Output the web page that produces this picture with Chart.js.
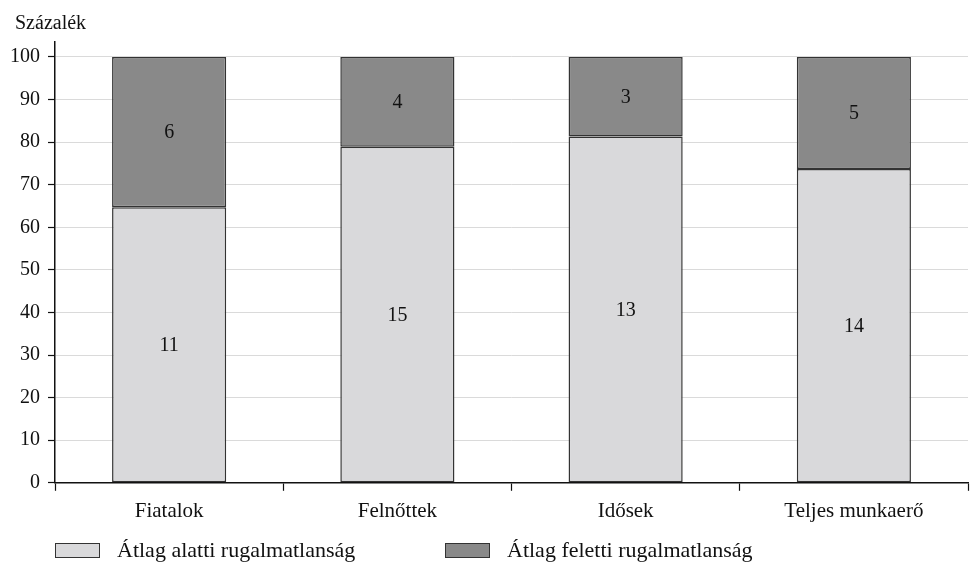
<!DOCTYPE html>
<html lang="hu">
<head>
<meta charset="utf-8">
<script src="https://cdn.jsdelivr.net/npm/chart.js@4/dist/chart.umd.min.js"></script>
<style>
    html, body { margin: 0; padding: 0; background: #fff; }
    #wrap { position: relative; width: 970px; height: 562px; }
    #ytitle {
        position: absolute; left: 15px; top: 10px; line-height: 24px;
        font-family: "Liberation Serif", serif; font-size: 20px; color: #111;
    }
    #legend {
        position: absolute; left: 0; top: 538px; width: 970px; height: 24px;
        font-family: "Liberation Serif", serif; font-size: 22px; color: #111;
    }
    .item { position: absolute; top: 0; height: 24px; line-height: 24px; white-space: nowrap; }
    .box { position: absolute; top: 5px; width: 45px; height: 15px; border: 1px solid #333; box-sizing: border-box; }
    .item span.txt { position: absolute; left: 62px; top: 0; }
</style>
</head>
<body>
<div id="wrap">
    <canvas id="chart" width="970" height="562"></canvas>
    <div id="ytitle">Százalék</div>
    <div id="legend"></div>
</div>
<script>
// ----------------------------------------------------------------------
// Adatok (leolvasva az ábráról)
// ----------------------------------------------------------------------
const categories = ['Fiatalok', 'Felnőttek', 'Idősek', 'Teljes munkaerő'];
const seriesNames = ['Átlag alatti rugalmatlanság', 'Átlag feletti rugalmatlanság'];

// oszlopmagasságok, százalék
const belowPct = [64.7, 78.9, 81.3, 73.7];
const abovePct = [35.3, 21.1, 18.7, 26.3];

// a szegmensekbe írt számok
const belowCount = [11, 15, 13, 14];
const aboveCount = [6, 4, 3, 5];

const yTicks = [0, 10, 20, 30, 40, 50, 60, 70, 80, 90, 100];

const FONT = '"Liberation Serif", serif';

// ----------------------------------------------------------------------
// Számok a szegmensek közepére
// ----------------------------------------------------------------------
const segmentLabels = {
    id: 'segmentLabels',
    afterDatasetsDraw(chart) {
        const ctx = chart.ctx;
        ctx.save();
        ctx.font = '20px ' + FONT;
        ctx.fillStyle = '#111';
        ctx.textAlign = 'center';
        ctx.textBaseline = 'middle';
        chart.data.datasets.forEach((ds, i) => {
            const meta = chart.getDatasetMeta(i);
            meta.data.forEach((bar, j) => {
                const p = bar.getProps(['x', 'y', 'base'], true);
                ctx.fillText(String(ds.counts[j]), p.x, (p.y + p.base) / 2 + 1);
            });
        });
        ctx.restore();
    }
};

const chart = new Chart(document.getElementById('chart'), {
    type: 'bar',
    data: {
        labels: categories,
        datasets: [{
            label: seriesNames[0],
            data: belowPct,
            counts: belowCount,
            backgroundColor: '#d9d9db',
            borderColor: '#333333',
            borderWidth: 1.5,
            borderSkipped: false
        }, {
            label: seriesNames[1],
            data: abovePct,
            counts: aboveCount,
            backgroundColor: '#898989',
            borderColor: '#333333',
            borderWidth: 1.5,
            borderSkipped: false
        }]
    },
    options: {
        responsive: false,
        animation: false,
        devicePixelRatio: 1,
        layout: { padding: { left: 5, right: 2, top: 42, bottom: 30 } },
        datasets: { bar: { barPercentage: 0.5, categoryPercentage: 1 } },
        plugins: {
            legend: { display: false },
            tooltip: { enabled: false },
            title: { display: false }
        },
        scales: {
            x: {
                stacked: true,
                grid: {
                    display: true,
                    drawOnChartArea: false,
                    offset: true,
                    tickLength: 8,
                    tickColor: '#111',
                    tickWidth: 1.2
                },
                border: { color: '#111', width: 1.5 },
                ticks: {
                    color: '#111',
                    padding: 8,
                    font: { family: FONT, size: 21 }
                }
            },
            y: {
                stacked: true,
                min: 0,
                max: 103.5,
                afterBuildTicks(scale) {
                    scale.ticks = yTicks.map(v => ({ value: v }));
                },
                afterFit(scale) { scale.width = 50; },
                grid: {
                    color: '#dadada',
                    lineWidth: 1,
                    tickLength: 7,
                    tickColor: '#111',
                    tickWidth: 1.2
                },
                border: { color: '#111', width: 1.5 },
                ticks: {
                    color: '#111',
                    padding: 8,
                    font: { family: FONT, size: 20 }
                }
            }
        }
    },
    plugins: [segmentLabels]
});

// ----------------------------------------------------------------------
// Jelmagyarázat
// ----------------------------------------------------------------------
const legendX = [55, 445];
const legendEl = document.getElementById('legend');
chart.data.datasets.forEach((ds, i) => {
    const item = document.createElement('div');
    item.className = 'item';
    item.style.left = legendX[i] + 'px';
    const box = document.createElement('span');
    box.className = 'box';
    box.style.background = ds.backgroundColor;
    const txt = document.createElement('span');
    txt.className = 'txt';
    txt.textContent = ds.label;
    item.appendChild(box);
    item.appendChild(txt);
    legendEl.appendChild(item);
});
</script>
</body>
</html>
